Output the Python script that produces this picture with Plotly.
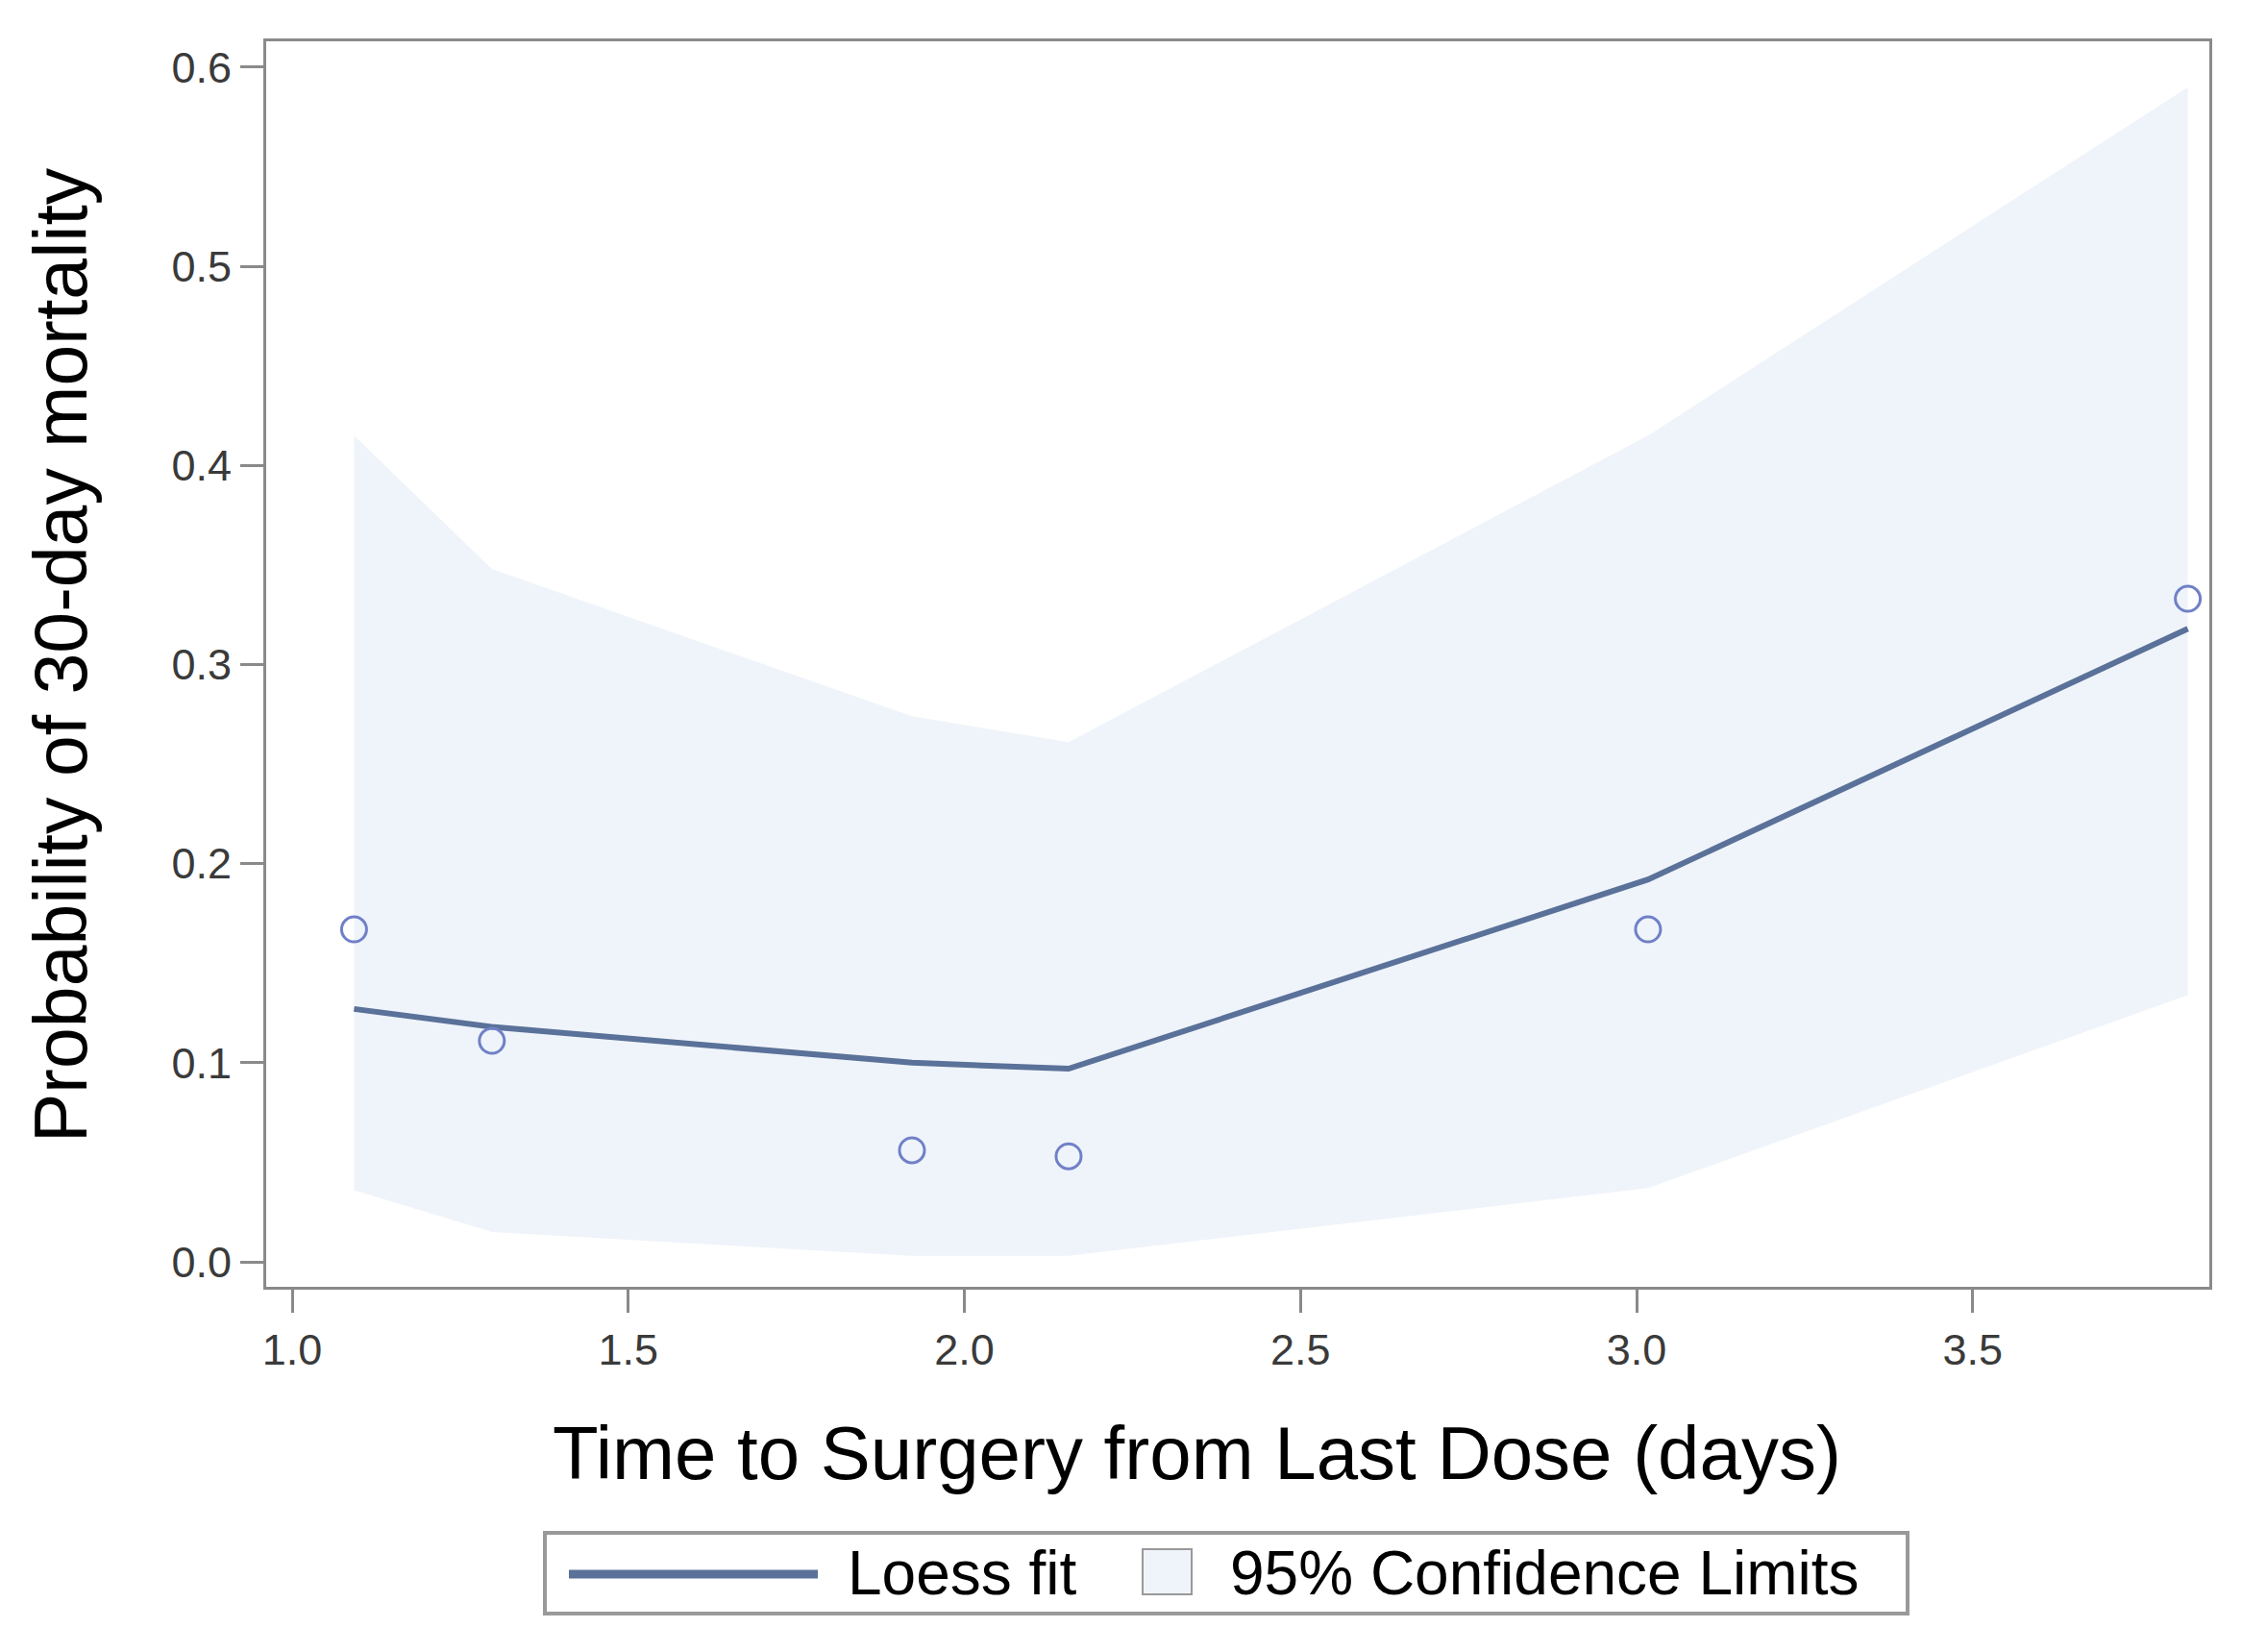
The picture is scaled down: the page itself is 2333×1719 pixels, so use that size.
import plotly.graph_objects as go

# ---- data ----
days = [1.092, 1.297, 1.922, 2.155, 3.017, 3.820]
observed = [0.167, 0.111, 0.056, 0.053, 0.167, 0.333]
loess_fit = [0.127, 0.118, 0.100, 0.097, 0.192, 0.318]
upper_cl = [0.415, 0.348, 0.274, 0.261, 0.415, 0.590]
lower_cl = [0.036, 0.015, 0.003, 0.003, 0.037, 0.134]
x_ticks = [1.0, 1.5, 2.0, 2.5, 3.0, 3.5]
y_ticks = [0.0, 0.1, 0.2, 0.3, 0.4, 0.5, 0.6]

# ---- styling ----
W, H = 2333, 1719
ML, MR, MT, MB = 277, 34, 43, 380
BAND = "#EFF4FA"
LINE = "#5A7199"
MARK = "#7080C8"
FRAME = "#8A8A8A"
FONT = "Liberation Sans, Arial, sans-serif"

PW = W - ML - MR
PH = H - MT - MB


def px(xp):
    return (xp - ML) / PW


def py(yp):
    return (H - MB - yp) / PH


fig = go.Figure()
fig.add_trace(go.Scatter(x=days, y=lower_cl, mode="lines", line=dict(width=0, color=BAND),
                         showlegend=False, hoverinfo="skip"))
fig.add_trace(go.Scatter(x=days, y=upper_cl, mode="lines", line=dict(width=0, color=BAND),
                         fill="tonexty", fillcolor=BAND, name="95% Confidence Limits",
                         showlegend=False))
fig.add_trace(go.Scatter(x=days, y=loess_fit, mode="lines", line=dict(width=6, color=LINE),
                         name="Loess fit", showlegend=False))
fig.add_trace(go.Scatter(x=days, y=observed, mode="markers",
                         marker=dict(symbol="circle-open", size=26, color=MARK,
                                     line=dict(width=3, color=MARK)),
                         showlegend=False))

axis_common = dict(showline=True, mirror=True, linecolor=FRAME, linewidth=3,
                   ticks="outside", tickcolor=FRAME, tickwidth=3, ticklen=24,
                   showgrid=False, zeroline=False, tickformat=".1f",
                   tickfont=dict(family=FONT, size=45, color="#3a3a3a"))

fig.update_xaxes(range=[0.9613, 3.852], tickvals=x_ticks, **axis_common)
fig.update_yaxes(range=[-0.01255, 0.613], tickvals=y_ticks, **axis_common)

shapes = [
    # legend frame
    dict(type="rect", xref="paper", yref="paper", x0=px(567), x1=px(1985), y0=py(1679), y1=py(1595),
         line=dict(color="#999999", width=4), fillcolor="white", layer="above"),
    # legend line sample
    dict(type="line", xref="paper", yref="paper", x0=px(592), x1=px(851), y0=py(1638), y1=py(1638),
         line=dict(color=LINE, width=9)),
    # legend band sample
    dict(type="rect", xref="paper", yref="paper", x0=px(1189), x1=px(1240), y0=py(1659), y1=py(1612),
         line=dict(color="#999999", width=2), fillcolor=BAND),
]

annotations = [
    dict(text="Time to Surgery from Last Dose (days)", xref="paper", yref="paper",
         x=px(1245), y=py(1512), xanchor="center", yanchor="middle", showarrow=False,
         font=dict(family=FONT, size=78, color="black")),
    dict(text="Probability of 30-day mortality", xref="paper", yref="paper",
         x=px(63), y=py(682), xanchor="center", yanchor="middle", showarrow=False, textangle=-90,
         font=dict(family=FONT, size=77, color="black")),
    dict(text="Loess fit", xref="paper", yref="paper", x=px(880), y=py(1637),
         xanchor="left", yanchor="middle", showarrow=False,
         font=dict(family=FONT, size=64, color="black")),
    dict(text="95% Confidence Limits", xref="paper", yref="paper", x=px(1278), y=py(1637),
         xanchor="left", yanchor="middle", showarrow=False,
         font=dict(family=FONT, size=64, color="black")),
]

fig.update_layout(width=W, height=H, margin=dict(l=ML, r=MR, t=MT, b=MB, autoexpand=False),
                  plot_bgcolor="white", paper_bgcolor="white", showlegend=False,
                  shapes=shapes, annotations=annotations)

fig.write_html("out.html", config={"displayModeBar": False},
               post_script="document.body.style.margin='0';document.body.style.overflow='hidden';")
